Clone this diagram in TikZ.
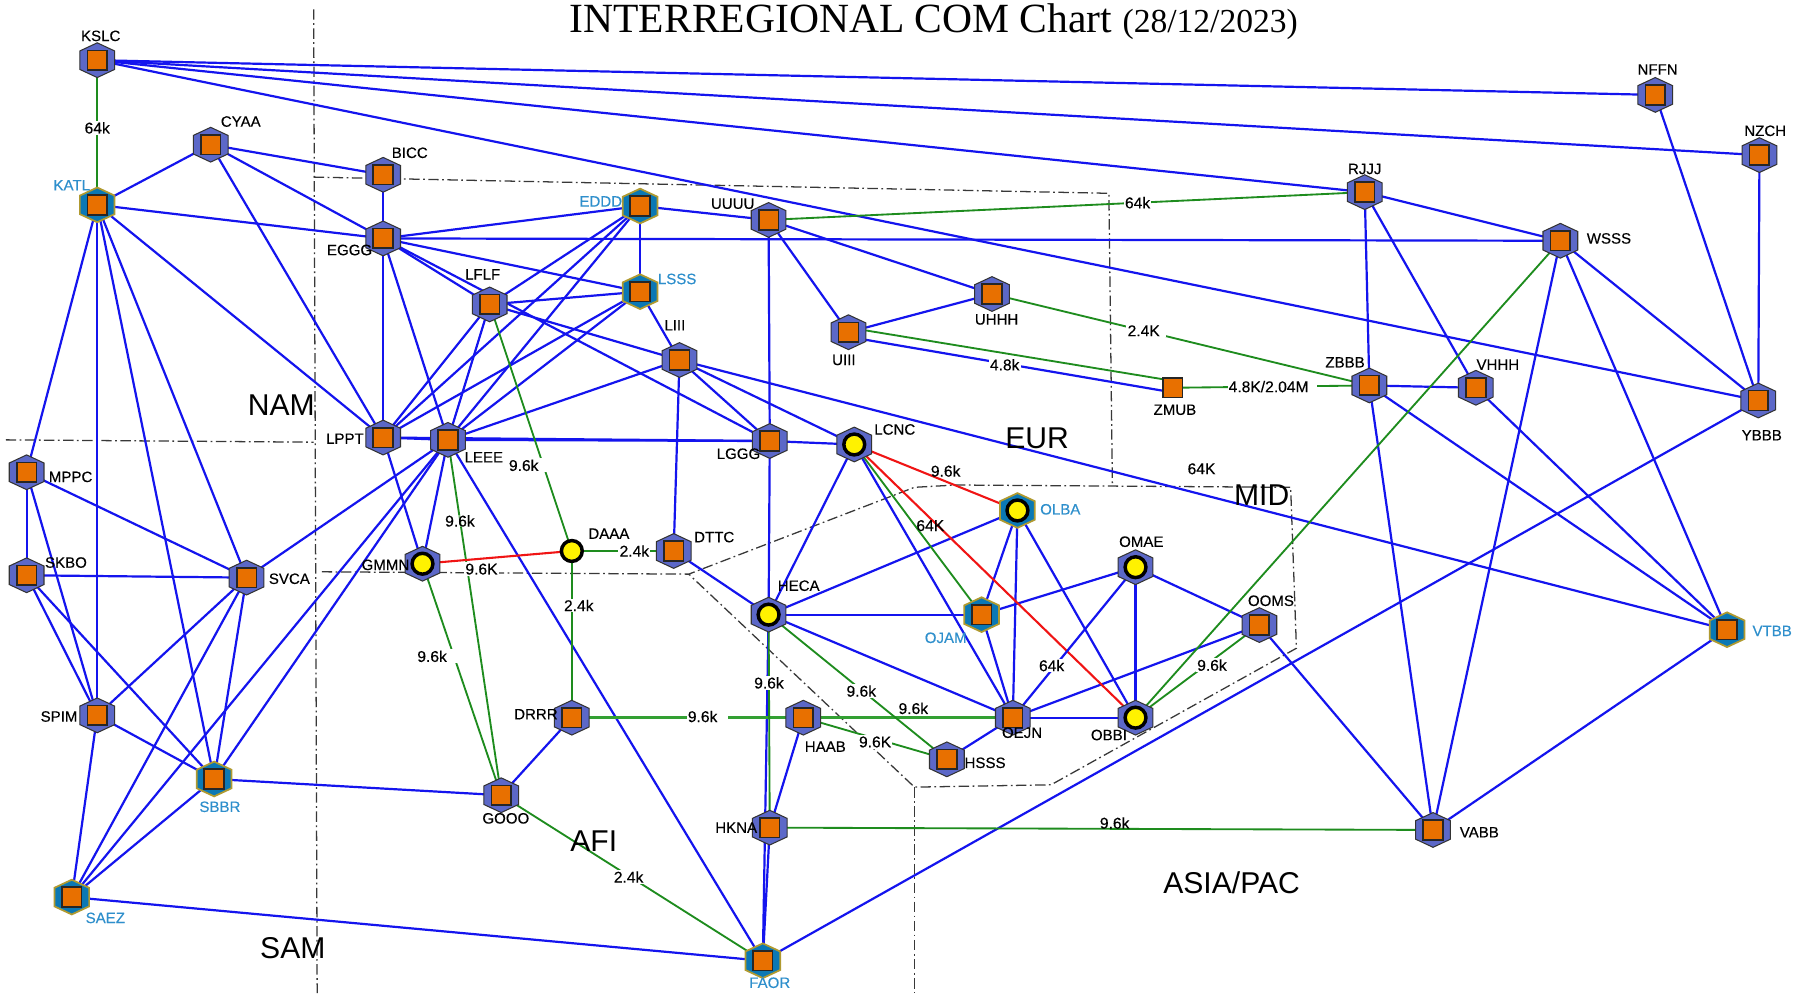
\documentclass[tikz,border=0pt]{standalone}
\usepackage{fontspec}
\setmainfont{Liberation Sans}
\newfontfamily\titlefont{Liberation Serif}
\newfontfamily\lfont{Liberation Sans}[FakeBold=0.25]
\usetikzlibrary{backgrounds}
\definecolor{cblue}{HTML}{1414EE}
\definecolor{cgreen}{HTML}{1E8C1E}
\definecolor{ctrunk}{HTML}{33A033}
\definecolor{cred}{HTML}{F01414}
\definecolor{hexblue}{HTML}{5C68C8}
\definecolor{hexteal}{HTML}{0B78B4}
\definecolor{cgold}{HTML}{B09A30}
\definecolor{corange}{HTML}{E87000}
\definecolor{clab}{HTML}{2E8FCC}
\definecolor{cdash}{HTML}{383838}
\tikzset{
  blueline/.style={draw=cblue,line width=1.9pt},
  greenline/.style={draw=cgreen,line width=1.6pt},
  trunkline/.style={draw=ctrunk,line width=2.2pt},
  redline/.style={draw=cred,line width=1.8pt},
  region/.style={draw=cdash,line width=1.1pt,dash pattern=on 9pt off 3pt on 1.5pt off 3pt},
  hexa/.style={fill=hexblue,draw=black!80,line width=0.9pt},
  hexb/.style={fill=hexteal,draw=cgold,line width=1.5pt},
  sq/.style={rectangle,fill=corange,draw=black!85,line width=1.4pt,minimum size=17pt,inner sep=0pt},
  ylw/.style={circle,fill=yellow,draw=black,line width=3pt,minimum size=18pt,inner sep=0pt},
  lab/.style={inner sep=0pt,yshift=-1pt,text=black,font=\lfont\fontsize{13}{15}\selectfont},
  blab/.style={inner sep=0pt,yshift=-1pt,text=clab,font=\lfont\fontsize{13}{15}\selectfont},
  elab/.style={fill=white,inner sep=1pt,text=black,font=\lfont\fontsize{13.5}{15}\selectfont},
  reg/.style={inner sep=0pt,yshift=-1pt,text=black,font=\fontsize{26}{30}\selectfont},
}
\newcommand\hexshape[3]{\path[#3,shift={(#1,#2)}] (0,-15)--(15,-8)--(15,8)--(0,15)--(-15,8)--(-15,-8)--cycle;}
\newcommand\stA[3]{\hexshape{#2}{#3}{hexa}\node[sq] (#1) at (#2,#3) {};}
\newcommand\stB[3]{\hexshape{#2}{#3}{hexb}\node[sq] (#1) at (#2,#3) {};}
\newcommand\stC[3]{\hexshape{#2}{#3}{hexa}\node[ylw] (#1) at (#2,#3) {};}
\newcommand\stD[3]{\hexshape{#2}{#3}{hexb}\node[ylw] (#1) at (#2,#3) {};}
\begin{document}
\begin{tikzpicture}[x=1pt,y=-1pt]
\useasboundingbox (0,0) rectangle (1568,858);
% stations
\stA{KSLC}{84}{52}\stA{CYAA}{182}{125}\stA{BICC}{331}{151}\stB{KATL}{84}{177}
\stA{EGGG}{331}{206}\stB{EDDD}{553}{178}\stA{UUUU}{664}{190}\stB{LSSS}{553}{252}
\stA{LFLF}{423}{263}\stA{UHHH}{857}{254}\stA{UIII}{733}{287}\stA{LIII}{587}{311}
\node[sq] (ZMUB) at (1013,335) {};
\stA{LPPT}{331}{378}\stA{LEEE}{387}{380}\stA{LGGG}{665}{381}\stC{LCNC}{738}{384}
\stA{MPPC}{23}{408}\stA{SKBO}{23}{497}\stA{SVCA}{213}{499}\stC{GMMN}{365}{487}
\node[ylw,minimum size=18pt] (DAAA) at (494,476) {};
\stA{DTTC}{582}{476}\stC{HECA}{664}{531}\stD{OLBA}{879}{441}\stB{OJAM}{848}{531}
\stC{OMAE}{981}{490}\stA{OOMS}{1088}{540}\stA{SPIM}{84}{618}\stB{SBBR}{185}{673}
\stA{DRRR}{494}{620}\stA{HAAB}{694}{620}\stA{OEJN}{875}{620}\stC{OBBI}{981}{620}
\stA{HSSS}{818}{656}\stA{GOOO}{433}{687}\stA{HKNA}{665}{715}\stA{VABB}{1238}{717}
\stB{SAEZ}{62}{775}\stB{FAOR}{659}{830}\stA{NFFN}{1430}{82}\stA{NZCH}{1520}{134}
\stA{RJJJ}{1179}{166}\stA{WSSS}{1348}{208}\stA{ZBBB}{1183}{333}\stA{VHHH}{1275}{335}
\stA{YBBB}{1519}{346}\stB{VTBB}{1492}{544}
\begin{pgfonlayer}{background}
\fill[white] (0,0) rectangle (1568,858);
% region boundaries
\draw[region] (271,8) -- (274,858);
\draw[region] (5,380) -- (271,382);
\draw[region] (271,153) -- (958,167) -- (961,419);
\draw[region] (278,494) -- (595,496) -- (790,421) -- (826,419) -- (1115,421) -- (1120,560) -- (908,678) -- (790,680) -- (595,496);
\draw[region] (790,680) -- (790,858);
% plain links
\foreach \a/\b in {KSLC/NFFN,KSLC/NZCH,KSLC/RJJJ,KSLC/YBBB,
 KATL/CYAA,KATL/EGGG,KATL/LPPT,KATL/MPPC,KATL/SPIM,KATL/SBBR,KATL/SVCA,
 CYAA/BICC,CYAA/EGGG,CYAA/LPPT,BICC/EGGG,
 EGGG/EDDD,EGGG/WSSS,EGGG/LSSS,EGGG/LFLF,EGGG/LGGG,EGGG/LPPT,EGGG/LEEE,
 EDDD/UUUU,EDDD/LSSS,EDDD/LFLF,EDDD/LPPT,EDDD/LEEE,
 LSSS/LFLF,LSSS/LPPT,LSSS/LEEE,LSSS/LIII,
 LFLF/LPPT,LFLF/LEEE,LFLF/LIII,
 LIII/LEEE,LIII/LGGG,LIII/LCNC,LIII/DTTC,LIII/VTBB,
 LPPT/LEEE,LPPT/GMMN,LPPT/LGGG,LEEE/LGGG,LEEE/GMMN,LEEE/SVCA,LEEE/SAEZ,LEEE/SBBR,LEEE/FAOR,
 LGGG/LCNC,LGGG/UUUU,LGGG/HECA,
 LCNC/HECA,LCNC/OEJN,
 OLBA/HECA,OLBA/OJAM,OLBA/OEJN,OLBA/OBBI,
 OJAM/HECA,OJAM/OMAE,OJAM/OEJN,
 OMAE/OBBI,OMAE/OOMS,OOMS/OEJN,OOMS/VABB,
 OEJN/OBBI,OEJN/HSSS,OEJN/HECA,
 HAAB/HKNA,HECA/FAOR,HKNA/FAOR,
 DRRR/GOOO,DTTC/HECA,GOOO/SBBR,
 SAEZ/FAOR,FAOR/YBBB,
 SAEZ/SPIM,SAEZ/SVCA,SAEZ/SBBR,SBBR/SPIM,SBBR/SKBO,SBBR/SVCA,
 SPIM/MPPC,SPIM/SKBO,SPIM/SVCA,MPPC/SKBO,MPPC/SVCA,SKBO/SVCA,
 UUUU/UHHH,UUUU/UIII,UIII/UHHH,
 RJJJ/WSSS,RJJJ/ZBBB,RJJJ/VHHH,ZBBB/VHHH,ZBBB/VABB,ZBBB/VTBB,VHHH/VTBB,
 WSSS/YBBB,WSSS/VABB,WSSS/VTBB,YBBB/NFFN,YBBB/NZCH,VABB/VTBB}
 {\draw[blueline] (\a.center) -- (\b.center);}
\draw[greenline] (OBBI.center) -- (WSSS.center);
\draw[greenline] ([yshift=4pt]UIII.center) -- ([yshift=6pt]ZMUB.center);
\draw[redline] (LCNC.center) -- (OBBI.center);
% labelled links
\draw[blueline] (OMAE.center) -- node[elab,pos=.646,xshift=-4pt,yshift=-1pt] (l16) {64k} (OEJN.center);
\draw[blueline] ([yshift=-4pt]UIII.center) -- node[elab,pos=.482,yshift=-1pt] (l4) {4.8k} ([yshift=-4pt]ZMUB.center);
\draw[greenline] (KSLC.center) -- node[elab,pos=.46,yshift=-1pt] (l1) {64k} (KATL.center);
\draw[greenline] (UUUU.center) -- node[elab,pos=.619] (l2) {64k} (RJJJ.center);
\draw[greenline] (UHHH.center) -- node[elab,pos=.402,xshift=2pt] (l3) {2.4K\kern4pt} (ZBBB.center);
\draw[greenline] (ZMUB.center) -- node[elab,pos=.488,xshift=3pt] (l5) {4.8K/2.04M\kern6pt} (ZBBB.center);
\draw[greenline] (LFLF.center) -- node[elab,pos=.648,anchor=east,xshift=8pt,yshift=-1pt] (l6) {9.6k\kern10pt} (DAAA.center);
\draw[greenline] (GMMN.center) -- node[elab,pos=.395,anchor=east,xshift=6pt,yshift=-1pt] (l7) {9.6k\kern10pt} (GOOO.center);
\draw[greenline] (LEEE.center) -- node[pos=.225,inner sep=0pt,yshift=-1pt,font=\lfont\fontsize{13.5}{15}\selectfont,fill=white,fill opacity=.4,text opacity=1] (l8) {9.6k} (GOOO.center);
\draw[greenline] (DAAA.center) -- node[elab,pos=.614] (l10) {2.4k} (DTTC.center);
\draw[greenline] (DAAA.center) -- node[elab,pos=.32,xshift=6pt,yshift=-1pt] (l11) {2.4k} (DRRR.center);
\draw[trunkline] (DRRR.center) -- node[elab,pos=.565,yshift=1pt,xshift=4pt] (l12) {9.6k\kern8pt} (HAAB.center);
\draw[trunkline] (HAAB.center) -- node[elab,pos=.525,yshift=8pt,fill=none] (l13) {9.6k} (OEJN.center);
\draw[greenline] (HECA.center) -- node[elab,pos=.52,yshift=-1pt] (l14) {9.6k} (HSSS.center);
\draw[greenline] (HAAB.center) -- node[elab,pos=.5,yshift=-3pt] (l15) {9.6K} (HSSS.center);
\draw[greenline] (HECA.center) -- node[elab,pos=.315,yshift=-1pt] (l17) {9.6k} (HKNA.center);
\draw[greenline] (HKNA.center) -- node[elab,pos=.52,yshift=5pt,fill=none] (l18) {9.6k} (VABB.center);
\draw[greenline] (GOOO.center) -- node[elab,pos=.487,yshift=-1pt] (l19) {2.4k} (FAOR.center);
\draw[greenline] (LCNC.center) -- node[elab,pos=.47,xshift=14pt,yshift=-1pt,fill=none] (l20) {64K} (OJAM.center);
\draw[greenline] (OOMS.center) -- node[elab,pos=.383,yshift=-4pt] (l21) {9.6k} (OBBI.center);
\draw[redline] (LCNC.center) -- node[elab,pos=.56,yshift=9pt,fill=none] (l22) {9.6k} (OLBA.center);
\draw[redline] (GMMN.center) -- node[elab,pos=.395,yshift=-9pt] (l9) {9.6K} (DAAA.center);
\end{pgfonlayer}
% station names
\node[lab] (tKSLC) at (87,30) {KSLC};
\node[lab] (tCYAA) at (208,104) {CYAA};
\node[lab] (tBICC) at (354,131) {BICC};
\node[blab] (tKATL) at (62,159) {KATL};
\node[lab] (tEGGG) at (302,215) {EGGG};
\node[blab] (tEDDD) at (519,173) {EDDD};
\node[lab] (tUUUU) at (633,175) {UUUU};
\node[blab] (tLSSS) at (585,240) {LSSS};
\node[lab] (tLFLF) at (417,236) {LFLF};
\node[lab] (tUHHH) at (861,275) {UHHH};
\node[lab] (tUIII) at (729,310) {UIII};
\node[lab] (tLIII) at (583,280) {LIII};
\node[lab] (tZMUB) at (1015,353) {ZMUB};
\node[lab] (tLPPT) at (298,378) {LPPT};
\node[lab] (tLEEE) at (418,394) {LEEE};
\node[lab] (tLGGG) at (638,391) {LGGG};
\node[lab] (tLCNC) at (773,370) {LCNC};
\node[lab] (tMPPC) at (61,411) {MPPC};
\node[lab] (tSKBO) at (57,485) {SKBO};
\node[lab] (tSVCA) at (250,499) {SVCA};
\node[lab] (tGMMN) at (333,487) {GMMN};
\node[lab] (tDAAA) at (526,460) {DAAA};
\node[lab] (tDTTC) at (617,463) {DTTC};
\node[lab] (tHECA) at (690,505) {HECA};
\node[blab] (tOLBA) at (916,439) {OLBA};
\node[blab] (tOJAM) at (817,550) {OJAM};
\node[lab] (tOMAE) at (986,467) {OMAE};
\node[lab] (tOOMS) at (1098,518) {OOMS};
\node[lab] (tSPIM) at (51,618) {SPIM};
\node[blab] (tSBBR) at (190,696) {SBBR};
\node[lab] (tDRRR) at (463,616) {DRRR};
\node[lab] (tHAAB) at (713,644) {HAAB};
\node[lab] (tOEJN) at (883,632) {OEJN};
\node[lab] (tOBBI) at (958,634) {OBBI};
\node[lab] (tHSSS) at (851,658) {HSSS};
\node[lab] (tGOOO) at (437,706) {GOOO};
\node[lab] (tHKNA) at (636,714) {HKNA};
\node[lab] (tVABB) at (1278,718) {VABB};
\node[blab] (tSAEZ) at (91,792) {SAEZ};
\node[blab] (tFAOR) at (665,848) {FAOR};
\node[lab] (tNFFN) at (1432,59) {NFFN};
\node[lab] (tNZCH) at (1525,112) {NZCH};
\node[lab] (tRJJJ) at (1179,145) {RJJJ};
\node[lab] (tWSSS) at (1390,205) {WSSS};
\node[lab] (tZBBB) at (1162,312) {ZBBB};
\node[lab] (tVHHH) at (1294,314) {VHHH};
\node[lab] (tYBBB) at (1522,375) {YBBB};
\node[blab] (tVTBB) at (1531,544) {VTBB};
\node[elab,fill=none] (free64) at (1038,405) {64K};
% region names
\node[reg] (rNAM) at (243,349) {NAM};
\node[reg] (rEUR) at (896,378) {EUR};
\node[reg] (rMID) at (1090,427) {MID};
\node[reg] (rAFI) at (513,726) {AFI};
\node[reg] (rASIA) at (1064,762) {ASIA/PAC};
\node[reg] (rSAM) at (253,818) {SAM};
% title
\node[anchor=base west,inner sep=0pt,text=black] (title) at (492,28) {\titlefont\fontsize{35.9}{40}\selectfont INTERREGIONAL COM Chart \fontsize{29}{32}\selectfont (28/12/2023)};
\end{tikzpicture}
\end{document}
